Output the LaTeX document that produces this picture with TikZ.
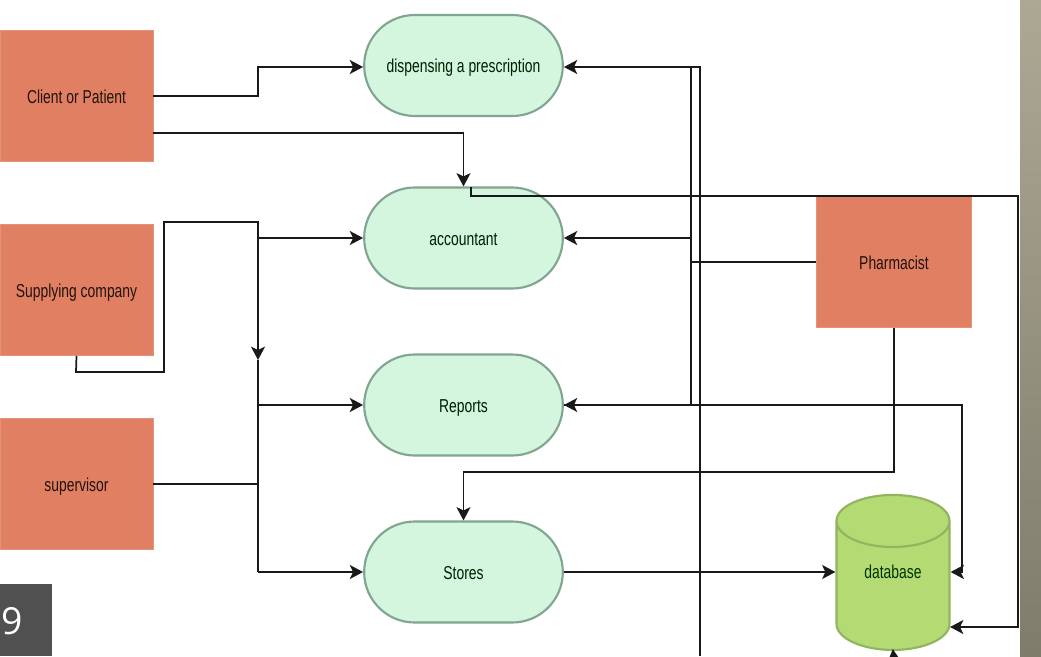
\documentclass[tikz,border=0pt]{standalone}
\usepackage{fontspec}
\usetikzlibrary{arrows.meta,shapes.misc,shapes.geometric}
\newfontfamily\flowfont[FakeStretch=0.745]{Liberation Sans}
\newfontfamily\numfont{Open Sans}
\definecolor{actorfill}{RGB}{225,127,98}
\definecolor{procfill}{RGB}{212,245,222}
\definecolor{procline}{RGB}{130,165,145}
\definecolor{dbfill}{RGB}{180,218,115}
\definecolor{dbline}{RGB}{145,180,95}
\tikzset{every picture/.style={line width=0.75pt}}
\tikzset{
	actor/.style={rectangle,fill=actorfill,draw=actorfill!85!white,line width=0.5pt,minimum width=114.75pt,minimum height=98.25pt,inner sep=0pt,text height=11pt,text depth=0pt,font=\flowfont\fontsize{14}{15}\selectfont,text=black!85!actorfill},
	proc/.style={rounded rectangle,rounded rectangle arc length=180,fill=procfill,draw=procline,line width=1.6pt,minimum width=149pt,minimum height=75.75pt,inner sep=0pt,text height=11pt,text depth=0pt,font=\flowfont\fontsize{14}{15}\selectfont,text=black!88!green},
	store/.style={cylinder,shape border rotate=90,aspect=0.91,fill=dbfill,draw=dbline,line width=1.6pt,minimum width=84.75pt,minimum height=116.25pt,inner sep=0pt,font=\flowfont\fontsize{14}{15}\selectfont,text=black!80!green},
	flow/.style={draw=black!90,line width=1.3pt,-{Stealth[length=10pt,width=10.5pt,inset=2.5pt]}},
	link/.style={draw=black!90,line width=1.3pt}
}

\begin{document}
\begin{tikzpicture}[x=0.75pt,y=0.75pt,yscale=-1,xscale=1]
	\useasboundingbox (0,0) rectangle (1041,656);

	%Band at the right edge
	\path [top color={rgb,255:red,172;green,168;blue,148},bottom color={rgb,255:red,128;green,124;blue,108}] (1020,0) rectangle (1041,656);

	%Actors
	\node [actor] (client) at (76.5,96) {Client or Patient};
	\node [actor] (supply) at (76.5,290) {Supplying company};
	\node [actor] (super) at (76.5,484) {supervisor};
	\node [actor,minimum width=116.25pt] (pharm) at (894,262) {Pharmacist};

	%Processes
	\node [proc] (dispense) at (463.5,65.5) {dispensing a prescription};
	\node [proc] (account) at (463.5,238) {accountant};
	\node [proc] (reports) at (463.5,405) {Reports};
	\node [proc] (stores) at (463.5,572) {Stores};

	%Database
	\node [store] (db) at (893,586) {\raisebox{21pt}{database}};

	%Page number
	\node [rectangle,fill={rgb,255:red,80;green,80;blue,80},minimum width=39pt,minimum height=54pt,inner sep=0pt] (numbox) at (26,620) {};
	\node [text=white,inner sep=0pt,font=\numfont\fontsize{28}{30}\selectfont] (numnine) at (12,621) {9};

	%Free ends and corners
	\coordinate (clientlow) at (153,133);
	\coordinate (acctop) at (471,187);
	\coordinate (dbside) at (950,627);
	\coordinate (dbfoot) at (894,660);
	\coordinate (leftbus) at (258,238);
	\coordinate (busend) at (258,360);
	\coordinate (rightbus) at (691,262);
	\coordinate (longtop) at (700,67);
	\coordinate (longend) at (700,656);

	%Client or Patient
	\draw [flow] (client.east) -- (258,96) -- (258,67) -- (dispense.west |- longtop);
	\draw [flow] (clientlow) -| (account.north);

	%Accountant to database
	\draw [flow] (acctop) -- (471,196) -- (1018,196) -- (1018,627) -- (dbside);

	%Supplying company
	\draw [flow] (supply.south) -- (76,372) -- (164,372) -- (164,222) -- (258,222) -- (busend);
	\draw [flow] (leftbus) -- (account.west);

	%supervisor
	\draw [link] (super.east) -- (258,484);
	\draw [link] (258,360) -- (258,572);
	\draw [flow] (258,405) -- (reports.west);
	\draw [flow] (258,572) -- (stores.west);

	%Pharmacist
	\draw [link] (pharm.west) -- (rightbus);
	\draw [link] (691,67) -- (691,405);
	\draw [flow] (691,67) -- (dispense.east |- longtop);
	\draw [flow] (691,238) -- (account.east);
	\draw [flow] (691,405) -- (reports.east);
	\draw [link] (691,67) -- (longtop) -- (longend);
	\draw [flow] (pharm.south) -- (894,472) -- (463.5,472) -- (stores.north);

	%Towards the database
	\draw [flow] (reports.east) -- (962,405) -- (962,572) -- (db.east |- stores.east);
	\draw [flow] (stores.east) -- (db.west |- stores.east);
	\draw [flow,shorten >=-1.5pt] (dbfoot) -- (db.south);
\end{tikzpicture}
\end{document}
